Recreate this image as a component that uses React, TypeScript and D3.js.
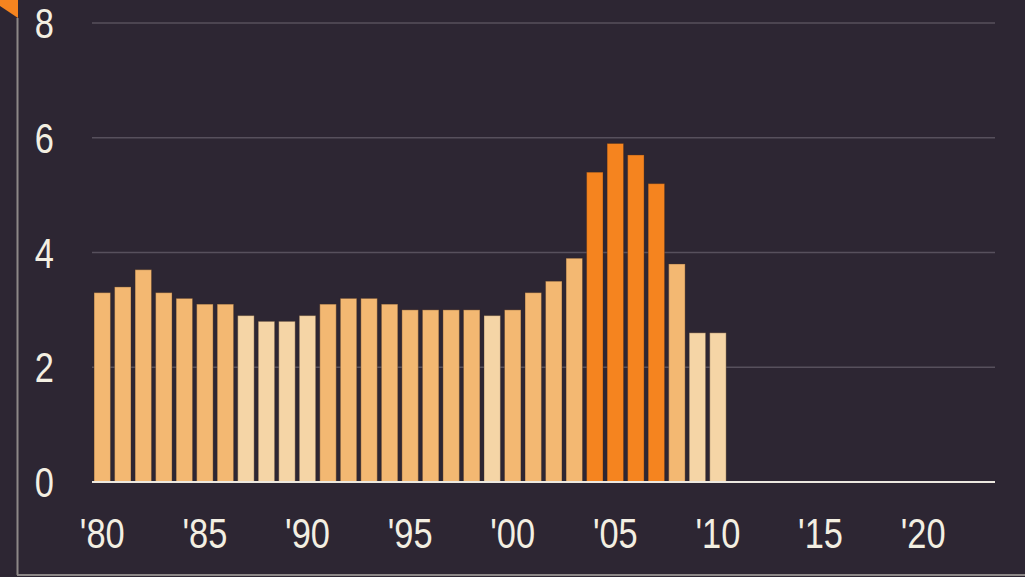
import React from "react";
import * as d3 from "d3";

const years: number[] = d3.range(1980, 2011);
const values: number[] = [
  3.3, 3.4, 3.7, 3.3, 3.2, 3.1, 3.1, 2.9, 2.8, 2.8, 2.9, 3.1, 3.2, 3.2, 3.1, 3.0,
  3.0, 3.0, 3.0, 2.9, 3.0, 3.3, 3.5, 3.9, 5.4, 5.9, 5.7, 5.2, 3.8, 2.6, 2.6,
];
const axisYears: number[] = d3.range(1980, 2024);
const xTickYears: number[] = [1980, 1985, 1990, 1995, 2000, 2005, 2010, 2015, 2020];
const yTicks: number[] = [0, 2, 4, 6, 8];

const W = 1025;
const H = 577;
const BG = "#2d2633";
const TEXT = "#f3efe2";
const FONT = "'Liberation Sans', Arial, sans-serif";
const NARROW = 0.82;

function barColor(v: number): string {
  if (v > 5) return "#f5841f";
  if (v >= 3) return "#f3b872";
  return "#f5d5a6";
}

export default function App() {
  const x = d3
    .scaleBand<number>()
    .domain(axisYears)
    .range([92, 995])
    .paddingInner(0.2)
    .paddingOuter(0.1);
  const y = d3.scaleLinear().domain([0, 8]).range([482, 23]);

  return (
    <svg
      width={W}
      height={H}
      style={{ position: "fixed", left: 0, top: 0, background: BG, display: "block" }}
    >
      <rect x={0} y={0} width={W} height={H} fill={BG} />
      {/* frame */}
      <line x1={17.5} y1={18} x2={17.5} y2={575} stroke="#8d8888" strokeWidth={2} />
      <line x1={17} y1={575} x2={W} y2={575} stroke="#8d8888" strokeWidth={2} />
      <polygon points="0,0 18,0 18,18 0,6" fill="#f5841f" />

      {/* gridlines */}
      {yTicks
        .filter((t) => t !== 0)
        .map((t) => (
          <line
            key={"g" + t}
            x1={92}
            x2={995}
            y1={y(t)}
            y2={y(t)}
            stroke="#57505d"
            strokeWidth={1.6}
          />
        ))}

      {/* bars */}
      {years.map((yr, i) => (
        <rect
          key={yr}
          x={x(yr)!}
          y={y(values[i])}
          width={x.bandwidth()}
          height={y(0) - y(values[i])}
          fill={barColor(values[i])}
          stroke="rgba(60,40,30,0.35)"
          strokeWidth={1}
        />
      ))}

      {/* baseline */}
      <line x1={92} x2={995} y1={y(0)} y2={y(0)} stroke="#ece8e0" strokeWidth={2} />

      {/* y labels */}
      {yTicks.map((t) => (
        <g key={"y" + t} transform={`translate(54,${y(t)}) scale(${NARROW},1)`}>
          <text
            dy="0.36em"
            textAnchor="end"
            fill={TEXT}
            fontFamily={FONT}
            fontSize={42}
          >
            {t}
          </text>
        </g>
      ))}

      {/* x labels */}
      {xTickYears.map((yr) => (
        <g
          key={"x" + yr}
          transform={`translate(${x(yr)! + x.bandwidth() / 2},548) scale(${NARROW},1)`}
        >
          <text textAnchor="middle" fill={TEXT} fontFamily={FONT} fontSize={42}>
            {"'" + String(yr).slice(2)}
          </text>
        </g>
      ))}
    </svg>
  );
}
